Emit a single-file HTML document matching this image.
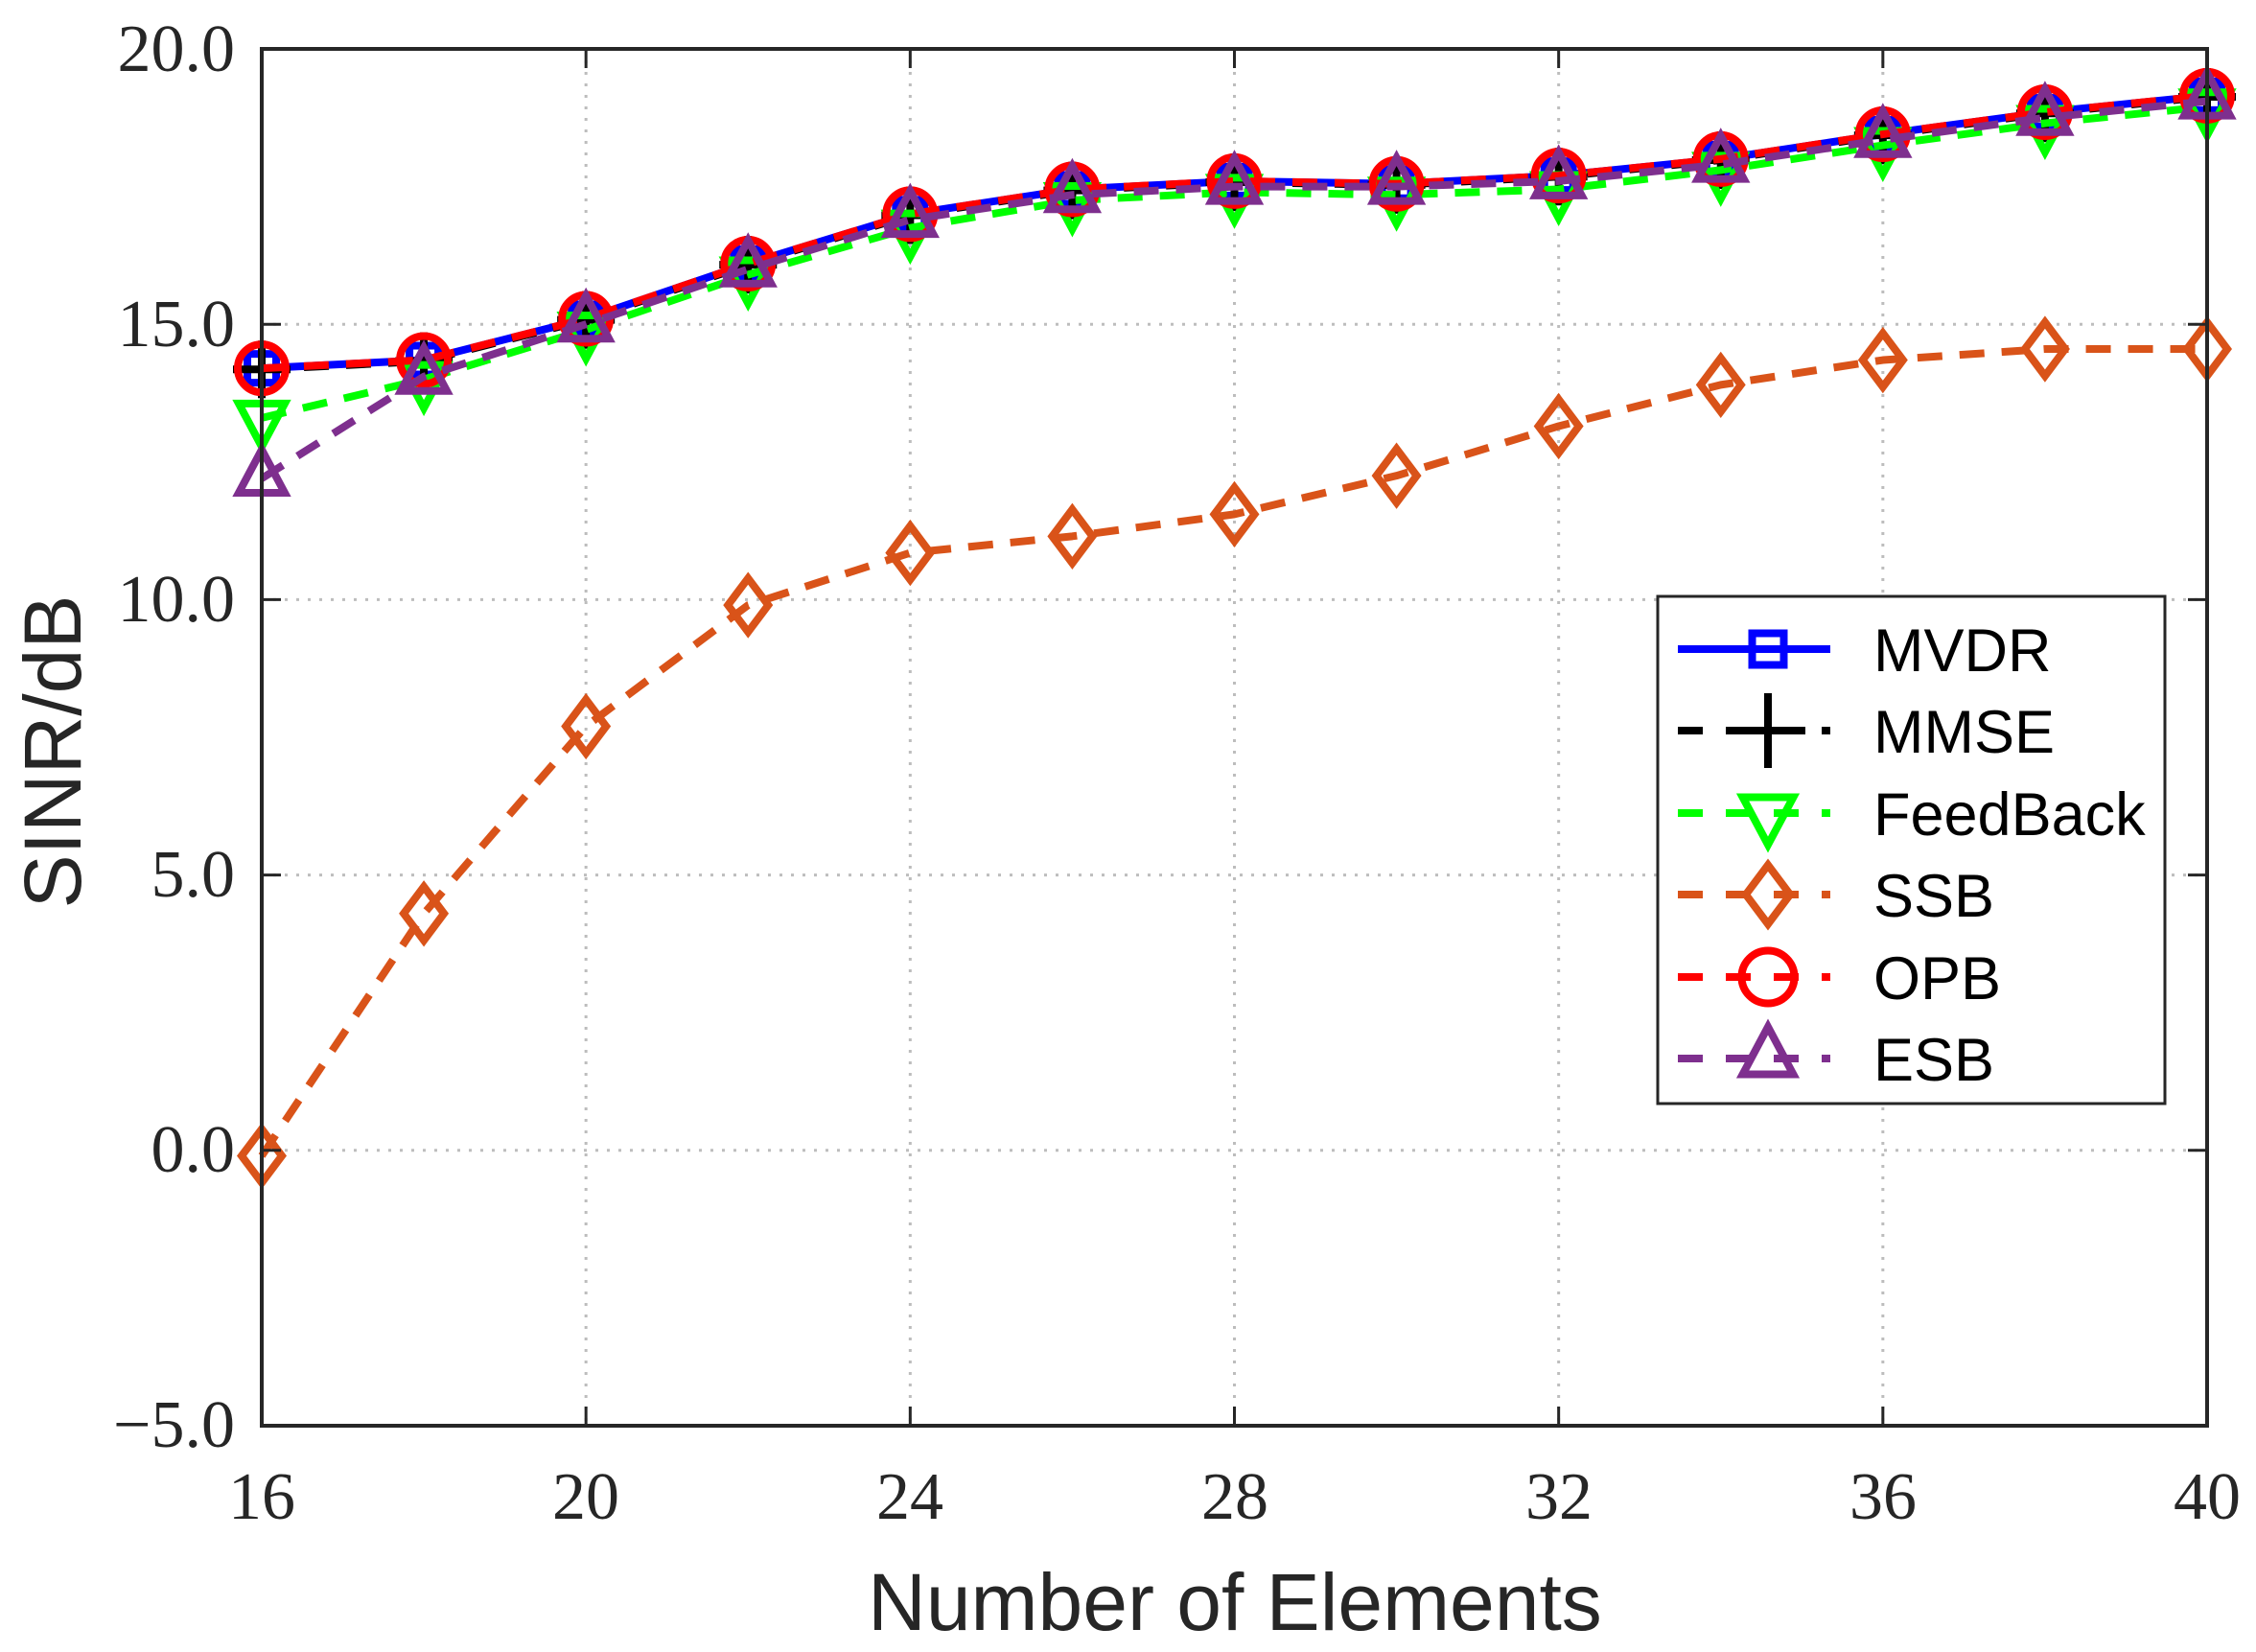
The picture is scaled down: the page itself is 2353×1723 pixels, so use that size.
<!DOCTYPE html>
<html><head><meta charset="utf-8"><style>
html,body{margin:0;padding:0;background:#fff;}
svg{display:block;}
</style></head><body>
<svg id="s" width="2353" height="1723" viewBox="0 0 2353 1723" xmlns="http://www.w3.org/2000/svg">
<rect width="2353" height="1723" fill="#fff"/>
<g id="grid" stroke="#bdbdbd" stroke-width="3" stroke-dasharray="3,9"></g>
<g id="data"></g>
<rect x="273" y="51" width="2029" height="1436" fill="none" stroke="#262626" stroke-width="4"/>
<g id="ticks" stroke="#262626" stroke-width="3"></g>
<g font-family="Liberation Serif, serif" font-size="70" fill="#262626" text-anchor="end">
<text x="245" y="74">20.0</text>
<text x="245" y="361">15.0</text>
<text x="245" y="648">10.0</text>
<text x="245" y="935">5.0</text>
<text x="245" y="1222">0.0</text>
<text x="245" y="1509">−5.0</text>
</g>
<g font-family="Liberation Serif, serif" font-size="70" fill="#262626" text-anchor="middle">
<text x="273" y="1584">16</text>
<text x="611" y="1584">20</text>
<text x="949" y="1584">24</text>
<text x="1288" y="1584">28</text>
<text x="1626" y="1584">32</text>
<text x="1964" y="1584">36</text>
<text x="2302" y="1584">40</text>
</g>
<text x="1288" y="1700" font-family="Liberation Sans, sans-serif" font-size="84" fill="#262626" text-anchor="middle">Number of Elements</text>
<text transform="translate(84,784) rotate(-90)" font-family="Liberation Sans, sans-serif" font-size="84" fill="#262626" text-anchor="middle">SINR/dB</text>
<rect x="1729" y="622" width="529" height="529" fill="#fff" stroke="#262626" stroke-width="3"/>
<g id="leg"></g>
<g font-family="Liberation Sans, sans-serif" font-size="63" fill="#000">
<text x="1954" y="700">MVDR</text>
<text x="1954" y="785">MMSE</text>
<text x="1954" y="871">FeedBack</text>
<text x="1954" y="956">SSB</text>
<text x="1954" y="1042">OPB</text>
<text x="1954" y="1127">ESB</text>
</g>
</svg>
<script>
(function(){
const NS="http://www.w3.org/2000/svg";
const X=v=>273+(v-16)*2029/24, Y=v=>51+(20-v)*1436/25;
function el(p,t,a){const e=document.createElementNS(NS,t);for(const k in a)e.setAttribute(k,a[k]);p.appendChild(e);return e;}
const grid=document.getElementById('grid'),ticks=document.getElementById('ticks');
for(let x=16;x<=40;x+=4){el(grid,'line',{x1:X(x),x2:X(x),y1:51,y2:1487});el(ticks,'line',{x1:X(x),x2:X(x),y1:1487,y2:1467});el(ticks,'line',{x1:X(x),x2:X(x),y1:51,y2:71});}
for(let y=-5;y<=20;y+=5){el(grid,'line',{x1:273,x2:2302,y1:Y(y),y2:Y(y)});el(ticks,'line',{x1:273,x2:293,y1:Y(y),y2:Y(y)});el(ticks,'line',{x1:2302,x2:2282,y1:Y(y),y2:Y(y)});}
const xs=[16,18,20,22,24,26,28,30,32,34,36,38,40];
const tp=[14.2,14.35,15.1,16.1,17.0,17.45,17.6,17.55,17.7,18.0,18.45,18.85,19.15];
const S=[
 {c:'#0000ff',d:null,m:'sq',y:tp},
 {c:'#000000',d:'26,18',m:'plus',y:tp.map(v=>v-0.02)},
 {c:'#00ff00',d:'26,18',m:'tdown',y:[13.3,14.0,14.9,15.9,16.75,17.25,17.4,17.35,17.45,17.8,18.25,18.65,18.95]},
 {c:'#d95319',d:'26,18',m:'dia',y:[-0.1,4.3,7.7,9.9,10.85,11.15,11.55,12.25,13.15,13.9,14.35,14.55,14.55]},
 {c:'#ff0000',d:'26,18',m:'circ',y:tp},
 {c:'#7e2f8e',d:'26,18',m:'tup',y:[12.2,14.05,15.0,16.0,16.9,17.35,17.5,17.5,17.6,17.9,18.35,18.75,19.05]}
];
function marker(g,m,x,y,c,k){
 k=k||1;
 const a={fill:'none',stroke:c,'stroke-width':8};
 if(m==='sq')el(g,'rect',Object.assign({x:x-15*k,y:y-15*k,width:30*k,height:30*k},a));
 if(m==='plus'){el(g,'path',Object.assign({d:`M${x-30*k} ${y}H${x+30*k}M${x} ${y-30*k}V${y+30*k}`},a));}
 if(m==='circ')el(g,'circle',Object.assign({cx:x,cy:y,r:25*k},a));
 if(m==='dia')el(g,'path',Object.assign({d:`M${x} ${y-28*k}L${x+21*k} ${y}L${x} ${y+28*k}L${x-21*k} ${y}Z`},a));
 if(m==='tdown')el(g,'path',Object.assign({d:`M${x-24*k} ${y-15*k}H${x+24*k}L${x} ${y+30*k}Z`},a));
 if(m==='tup')el(g,'path',Object.assign({d:`M${x-24*k} ${y+15*k}H${x+24*k}L${x} ${y-30*k}Z`},a));
}
const g=document.getElementById('data');
S.forEach(s=>{
 const pts=xs.map((x,i)=>X(x)+','+Y(s.y[i])).join(' ');
 const a={points:pts,fill:'none',stroke:s.c,'stroke-width':8,'stroke-linejoin':'round'};
 if(s.d)a['stroke-dasharray']=s.d;
 el(g,'polyline',a);
 xs.forEach((x,i)=>marker(g,s.m,X(x),Y(s.y[i]),s.c));
});
const lg=document.getElementById('leg');
const rows=[677,762,848,933,1019,1104];
S.forEach((s,i)=>{
 const y=rows[i];
 const a={x1:1750,x2:1909,y1:y,y2:y,stroke:s.c,'stroke-width':8};
 if(s.d)a['stroke-dasharray']='26,24';
 el(lg,'line',a);
 marker(lg,s.m,1844,y,s.c,s.m==='plus'?1.3:1.1);
});
})();
</script>
</body></html>
